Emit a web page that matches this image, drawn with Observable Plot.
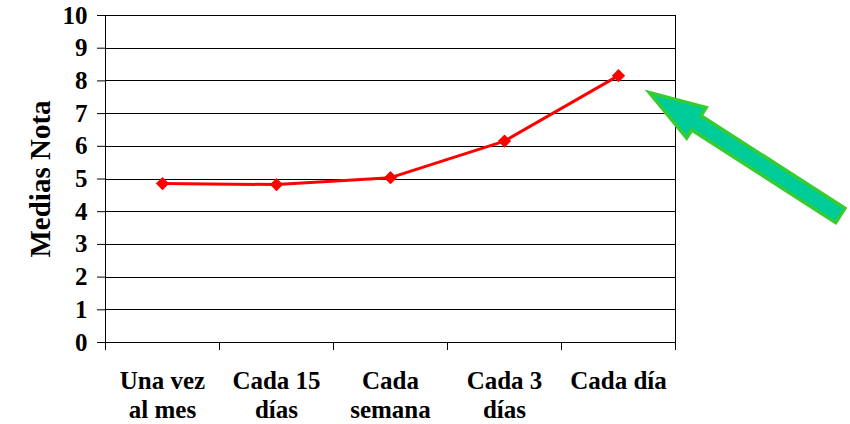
<!DOCTYPE html>
<html>
<head>
<meta charset="utf-8">
<script src="https://cdn.jsdelivr.net/npm/d3@7"></script>
<script src="https://cdn.jsdelivr.net/npm/@observablehq/plot@0.6"></script>
<style>
  html, body { margin: 0; padding: 0; background: #fff; }
  #chart { width: 850px; height: 424px; }
  #chart svg text, #chart svg tspan { font-family: "Liberation Serif", serif !important; font-weight: bold !important; }
</style>
</head>
<body>
<div id="chart"></div>
<script>
// Data
const categories = ["Una vez\nal mes", "Cada 15\ndías", "Cada\nsemana", "Cada 3\ndías", "Cada día"];
const medias = [4.86, 4.83, 5.04, 6.16, 8.16];
const yTicks = [0, 1, 2, 3, 4, 5, 6, 7, 8, 9, 10];
const yTitle = "Medias Nota";
// Annotation arrow (data units): from tail to head
const arrowFrom = [6.45, 3.87];
const arrowTo = [4.775, 7.63];

const FONT = "Liberation Serif";
const rows = categories.map((c, i) => ({pos: i + 0.5, cat: c, value: medias[i]}));
const catPositions = categories.map((c, i) => i + 0.5);
const boundaries = d3.range(0, categories.length + 1);

function arrowMark(...args) {
  const scales = args.find(a => a && typeof a.x === "function" && typeof a.y === "function");
  const x0 = scales.x(arrowFrom[0]), y0 = scales.y(arrowFrom[1]);
  const x1 = scales.x(arrowTo[0]), y1 = scales.y(arrowTo[1]);
  const dx = x1 - x0, dy = y1 - y0, L = Math.hypot(dx, dy);
  const ux = dx / L, uy = dy / L, nx = -uy, ny = ux;
  const shaft = 8.5, head = 18, hl = 56;
  const bx = x1 - ux * hl, by = y1 - uy * hl;
  const pts = [
    [x0 + nx * shaft, y0 + ny * shaft],
    [bx + nx * shaft, by + ny * shaft],
    [bx + nx * head, by + ny * head],
    [x1, y1],
    [bx - nx * head, by - ny * head],
    [bx - nx * shaft, by - ny * shaft],
    [x0 - nx * shaft, y0 - ny * shaft]
  ];
  const path = d3.create("svg:path")
    .attr("d", "M" + pts.map(p => p.join(",")).join("L") + "Z")
    .attr("fill", "#00CC99")
    .attr("stroke", "#33CC33")
    .attr("stroke-width", 3.5)
    .attr("stroke-linejoin", "miter");
  return path.node();
}

const chart = Plot.plot({
  width: 850,
  height: 424,
  marginLeft: 105,
  marginRight: 175,
  marginTop: 15,
  marginBottom: 82,
  style: {fontFamily: FONT, fontWeight: "bold", fontSize: "25px", color: "#000", background: "#fff"},
  x: {type: "linear", domain: [0, categories.length]},
  y: {domain: [0, 10]},
  marks: [
    Plot.ruleY(yTicks, {stroke: "#000", strokeWidth: 1, shapeRendering: "crispEdges"}),
    Plot.ruleX([0, categories.length], {y1: 0, y2: 10, stroke: "#000", strokeWidth: 1, shapeRendering: "crispEdges"}),
    Plot.axisY({ticks: yTicks, tickSize: 8, tickPadding: 10, label: null, tickFormat: d => String(d),
      fontFamily: FONT, fontSize: 25, fontWeight: "bold"}),
    Plot.axisX({ticks: boundaries, tickSize: 8, tickFormat: () => "", label: null}),
    Plot.axisX({ticks: catPositions, tickSize: 0, tickPadding: 26, label: null, lineHeight: 1.15,
      tickFormat: d => categories[Math.round(d - 0.5)], fontFamily: FONT, fontSize: 25, fontWeight: "bold"}),
    Plot.line(rows, {x: "pos", y: "value", stroke: "#FF0000", strokeWidth: 3}),
    Plot.dot(rows, {x: "pos", y: "value", symbol: "diamond2", r: 6, fill: "#FF0000", stroke: "none"}),
    Plot.text([yTitle], {frameAnchor: "left", text: d => d, rotate: -90, dx: -65, textAnchor: "middle", lineAnchor: "middle",
      fontFamily: FONT, fontSize: 29, fontWeight: "bold", fill: "#000"}),
    arrowMark
  ]
});
document.getElementById("chart").appendChild(chart);
</script>
</body>
</html>
